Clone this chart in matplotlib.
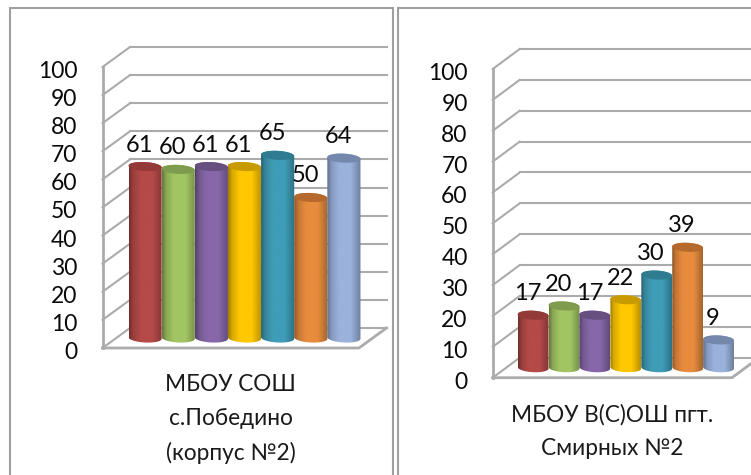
import matplotlib
matplotlib.use("Agg")
import matplotlib.pyplot as plt
import numpy as np
from matplotlib.patches import Rectangle, Polygon
from matplotlib.path import Path
from matplotlib.colors import to_rgb
from matplotlib.transforms import ScaledTranslation

plt.rcParams['font.family'] = ['Lato', 'Open Sans', 'DejaVu Sans']

W, H = 751, 475
values_a = [61, 60, 61, 61, 65, 50, 64]
values_b = [17, 20, 17, 22, 30, 39, 9]
label_a = "МБОУ СОШ\nс.Победино\n(корпус №2)"
label_b = "МБОУ В(С)ОШ пгт.\nСмирных №2"
yticks = [0, 10, 20, 30, 40, 50, 60, 70, 80, 90, 100]
body_colors = ["#B54A48", "#A2C563", "#8767A9", "#FFC800", "#3F9DB8", "#E78C3E", "#9AB2DC"]
cap_colors = ["#933A38", "#7F9B4D", "#67507F", "#C79A00", "#2F7B90", "#B5692C", "#7488AB"]
GREY = "#ABABAB"
GAP = 0.37

shade = np.interp(np.linspace(0, 1, 64), [0, 0.12, 0.35, 0.7, 1], [0.62, 0.85, 1.0, 1.0, 0.72])


def cylinder(ax, x, val, color, cap, ux, uy, dx, dy, z):
    # ux, uy = data units per pixel
    hw = 0.5
    t = np.linspace(0, np.pi, 40)
    ex = hw * np.cos(t)
    ry = 4.5 * uy
    tilt = -0.05 * uy / ux
    cx, y0 = x + dx / 2, dy / 2
    y1 = y0 + val
    top_up = y1 + ry * np.sin(t) + tilt * ex
    top_dn = y1 - ry * np.sin(t) + tilt * ex
    bot_dn = y0 - ry * np.sin(t) + tilt * ex
    # body outline: down the left side, round the base, up the right
    px = np.r_[cx + ex[::-1], cx + ex]
    py = np.r_[top_up[::-1], bot_dn]
    verts = np.c_[px, py]
    img = np.array(to_rgb(color))[None, None, :] * shade[None, :, None]
    im = ax.imshow(np.clip(img, 0, 1), extent=[cx - hw, cx + hw, y0 - 2 * ry, y1 + 2 * ry],
                   aspect="auto", origin="lower", zorder=z, interpolation="bilinear")
    im.set_clip_box(ax.figure.bbox)
    im.set_clip_path(Path(np.r_[verts, verts[:1]]), ax.transData)
    ax.add_patch(Polygon(np.c_[np.r_[cx + ex, cx + ex[::-1]], np.r_[top_up, top_dn[::-1]]],
                         closed=True, fc=cap, ec="none", zorder=z + 0.5, clip_on=False))


def panel(fig, rect, values, label, depth, pad):
    left, top, right, bottom = rect
    ax = fig.add_axes([left / W, 1 - bottom / H, (right - left) / W, (bottom - top) / H])
    n = len(values)
    xlim = (-0.5 - GAP, n - 0.5 + GAP)
    ax.set_xlim(xlim)
    ax.set_ylim(0, 100)
    ux = (xlim[1] - xlim[0]) / (right - left)
    uy = 100 / (bottom - top)
    dx, dy = depth[0] * ux, depth[1] * uy

    # back wall lines, side wall diagonals
    for v in yticks:
        ax.plot([xlim[0] + dx, xlim[1] + depth[2] * ux], [v + dy, v + dy], color=GREY, lw=1.5,
                clip_on=False, zorder=1)
        ax.plot([xlim[0], xlim[0] + dx], [v, v + dy], color=GREY, lw=1.5, clip_on=False, zorder=1)
    ax.plot([xlim[0], xlim[0]], [0, 100], color=GREY, lw=2, clip_on=False, zorder=2)
    ax.plot([xlim[0], xlim[1], xlim[1] + depth[2] * ux], [0, 0, dy * depth[2] / depth[0]],
            color=GREY, lw=2, clip_on=False, zorder=2)

    for i, val in enumerate(values):
        cylinder(ax, i, val, body_colors[i], cap_colors[i], ux, uy, dx, dy, 3 + i)
        ax.annotate(str(val), (i + dx / 2, val + dy / 2), xytext=(-4, 15.5), textcoords="offset points",
                    ha="center", va="center", fontsize=17, color="#0A0A0A", zorder=20)

    for s in ax.spines.values():
        s.set_visible(False)
    ax.patch.set_alpha(0)
    ax.set_yticks(yticks)
    ax.set_xticks([(xlim[0] + xlim[1]) / 2])
    ax.set_xticklabels([label], linespacing=1.72)
    ax.tick_params(axis="y", length=0, pad=18, labelsize=16.5, labelcolor="#0A0A0A")
    ax.tick_params(axis="x", length=0, pad=pad, labelsize=16.3, labelcolor="#1A1A1A")
    # digits sit a little high in this font
    for tl in ax.get_yticklabels():
        tl.set_transform(tl.get_transform() + ScaledTranslation(0, -2.5 / 100, fig.dpi_scale_trans))
    return ax


fig = plt.figure(figsize=(W / 100, H / 100), dpi=100, facecolor="white")

# chart frames run off the bottom of the picture
fig.add_artist(Rectangle((9.5 / W, -0.05), 383.5 / W, 1.05 - 8 / H, fc="none", ec="#A0A0A0", lw=1.5,
                         transform=fig.transFigure))
fig.add_artist(Rectangle((397.5 / W, -0.05), 380 / W, 1.05 - 8 / H, fc="none", ec="#A0A0A0", lw=1.5,
                         transform=fig.transFigure))

panel(fig, (102.5, 67, 359, 348), values_a, label_a, (27.5, 20, 27.5), 19)
panel(fig, (492.7, 69, 732, 377.7), values_b, label_b, (27, 20, 27), 19)

fig.savefig("out.png", dpi=100)
